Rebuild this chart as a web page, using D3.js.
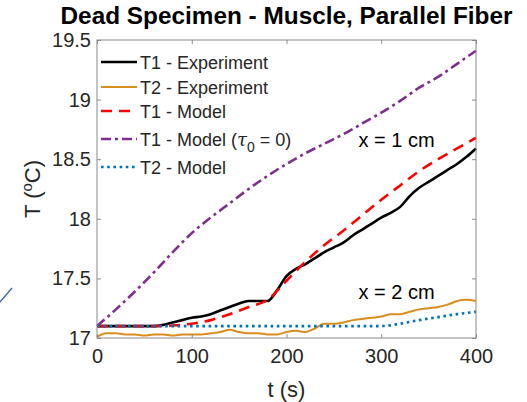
<!DOCTYPE html>
<html>
<head>
<meta charset="utf-8">
<script src="https://cdn.jsdelivr.net/npm/d3@7"></script>
<style>
  body { margin: 0; background: #fff; }
  svg { display: block; font-family: "Liberation Sans", Arial, sans-serif; }
</style>
</head>
<body>
<div id="chart"></div>
<script>
const width = 527, height = 402;
const margin = {top: 40, right: 51, bottom: 64, left: 97};

// time grids (s)
const tExp = d3.range(0, 401, 10);
const tModel = d3.range(0, 401, 20);

// T1 - Experiment (black)
const t1Exp = [17.10, 17.10, 17.10, 17.10, 17.10, 17.10, 17.10, 17.11, 17.13, 17.15,
  17.17, 17.18, 17.20, 17.23, 17.26, 17.29, 17.31, 17.31, 17.31, 17.40,
  17.52, 17.58, 17.62, 17.67, 17.72, 17.76, 17.80, 17.86, 17.91, 17.96,
  18.01, 18.05, 18.10, 18.19, 18.26, 18.31, 18.36, 18.41, 18.46, 18.52, 18.59];

// T2 - Experiment (orange)
const t2Exp = [17.01, 17.04, 17.04, 17.03, 17.03, 17.02, 17.03, 17.03, 17.02, 17.03,
  17.03, 17.03, 17.04, 17.05, 17.07, 17.05, 17.04, 17.04, 17.03, 17.03,
  17.05, 17.06, 17.05, 17.08, 17.12, 17.12, 17.13, 17.15, 17.16, 17.17,
  17.18, 17.20, 17.20, 17.22, 17.24, 17.25, 17.26, 17.28, 17.31, 17.32, 17.31];

// T1 - Model (red dashed)
const t1Model = [17.10, 17.10, 17.10, 17.10, 17.105, 17.12, 17.15, 17.20, 17.26, 17.32,
  17.48, 17.64, 17.78, 17.90, 18.03, 18.16, 18.28, 18.40, 18.50, 18.59, 18.68];

// T1 - Model, tau0 = 0 (purple dash-dot)
const t1ModelTau0 = [17.10, 17.24, 17.39, 17.55, 17.72, 17.88, 18.01, 18.13, 18.25, 18.36,
  18.46, 18.55, 18.63, 18.71, 18.80, 18.89, 18.99, 19.10, 19.19, 19.30, 19.41];

// T2 - Model (blue dotted)
const t2Model = [17.10, 17.10, 17.10, 17.10, 17.10, 17.10, 17.10, 17.10, 17.10, 17.10,
  17.10, 17.10, 17.10, 17.10, 17.10, 17.10, 17.12, 17.15, 17.175, 17.20, 17.22];

const xTicks = [0, 100, 200, 300, 400];
const yTicks = [17, 17.5, 18, 18.5, 19, 19.5];

const series = [
  {name: "T1 - Experiment", t: tExp, v: t1Exp, color: "#000000", dash: null, width: 2.6},
  {name: "T2 - Experiment", t: tExp, v: t2Exp, color: "#d98c1f", dash: null, width: 2},
  {name: "T1 - Model", t: tModel, v: t1Model, color: "#ff0000", dash: "11,7", width: 2.6},
  {name: "T1 - Model", tau: true, t: tModel, v: t1ModelTau0, color: "#7e2f8e", dash: "10,4,3,4", width: 2.6},
  {name: "T2 - Model", t: tModel, v: t2Model, color: "#0072bd", dash: "2.6,3.6", width: 2.6}
];

const x = d3.scaleLinear().domain([0, 400]).range([margin.left, width - margin.right]);
const y = d3.scaleLinear().domain([17, 19.5]).range([height - margin.bottom, margin.top]);

const svg = d3.select("#chart").append("svg")
  .attr("width", width)
  .attr("height", height);

// stray slide decoration at left
svg.append("line")
  .attr("x1", 0).attr("y1", 302).attr("x2", 12).attr("y2", 288)
  .attr("stroke", "#3d62a3").attr("stroke-width", 1.3);

// lines
const line = d3.line().curve(d3.curveMonotoneX);
series.forEach(s => {
  svg.append("path")
    .attr("fill", "none")
    .attr("stroke", s.color)
    .attr("stroke-width", s.width)
    .attr("stroke-dasharray", s.dash)
    .attr("d", line(s.t.map((t, i) => [x(t), y(s.v[i])])));
});

// box + inward ticks
const axisColor = "#262626";
svg.append("rect")
  .attr("x", x(0)).attr("y", y(19.5))
  .attr("width", x(400) - x(0)).attr("height", y(17) - y(19.5))
  .attr("fill", "none").attr("stroke", "#8a8a8a").attr("stroke-width", 1);

const styleAxis = g => {
  g.select(".domain").remove();
  g.selectAll(".tick line").attr("stroke", "#8a8a8a");
  g.selectAll(".tick text").attr("fill", axisColor).style("font-size", "20px")
    .style("font-family", "Liberation Sans, Arial, sans-serif");
};

svg.append("g")
  .attr("transform", `translate(0,${y(17)})`)
  .call(d3.axisBottom(x).tickValues(xTicks).tickSize(-4).tickPadding(11).tickFormat(d3.format("d")))
  .call(styleAxis);
svg.append("g")
  .attr("transform", `translate(0,${y(19.5)})`)
  .call(d3.axisTop(x).tickValues(xTicks).tickSize(-4).tickFormat(""))
  .call(styleAxis);
svg.append("g")
  .attr("transform", `translate(${x(0)},0)`)
  .call(d3.axisLeft(y).tickValues(yTicks).tickSize(-4).tickPadding(6).tickFormat(d => d3.format("~g")(d)))
  .call(styleAxis);
svg.append("g")
  .attr("transform", `translate(${x(400)},0)`)
  .call(d3.axisRight(y).tickValues(yTicks).tickSize(-4).tickFormat(""))
  .call(styleAxis);

// title
svg.append("text")
  .attr("x", (x(0) + x(400)) / 2).attr("y", 24)
  .attr("text-anchor", "middle")
  .attr("fill", "#000")
  .attr("textLength", 452).attr("lengthAdjust", "spacingAndGlyphs")
  .style("font-size", "23px").style("font-weight", "bold")
  .text("Dead Specimen - Muscle, Parallel Fiber");

// axis labels
svg.append("text")
  .attr("x", (x(0) + x(400)) / 2).attr("y", 397)
  .attr("text-anchor", "middle").attr("fill", axisColor)
  .style("font-size", "22px")
  .text("t (s)");

const yl = svg.append("text")
  .attr("transform", `translate(40,${(y(17) + y(19.5)) / 2}) rotate(-90)`)
  .attr("text-anchor", "middle").attr("fill", axisColor)
  .style("font-size", "22px");
yl.append("tspan").text("T (");
yl.append("tspan").attr("dy", -8).style("font-size", "15px").text("o");
yl.append("tspan").attr("dy", 8).text("C)");

// annotations
svg.append("text").attr("x", x(276)).attr("y", y(18.6))
  .attr("fill", "#000").style("font-size", "20px").text("x = 1 cm");
svg.append("text").attr("x", x(276)).attr("y", y(17.33))
  .attr("fill", "#000").style("font-size", "20px").text("x = 2 cm");

// legend (no box)
const legRows = [62, 87, 111, 139, 167];
const leg = svg.append("g");
series.forEach((s, i) => {
  const ly = legRows[i];
  leg.append("line")
    .attr("x1", 101).attr("x2", 137).attr("y1", ly).attr("y2", ly)
    .attr("stroke", s.color).attr("stroke-width", s.width)
    .attr("stroke-dasharray", s.dash);
  const t = leg.append("text")
    .attr("x", 140).attr("y", ly + 6.5)
    .attr("fill", axisColor).style("font-size", "18px");
  t.append("tspan").text(s.name);
  if (s.tau) {
    t.append("tspan").text(" (");
    t.append("tspan").style("font-style", "italic").style("font-family", "DejaVu Serif, serif").text("τ");
    t.append("tspan").attr("dy", 6).style("font-size", "14px").text("0");
    t.append("tspan").attr("dy", -6).text(" = 0)");
  }
});
</script>
</body>
</html>
